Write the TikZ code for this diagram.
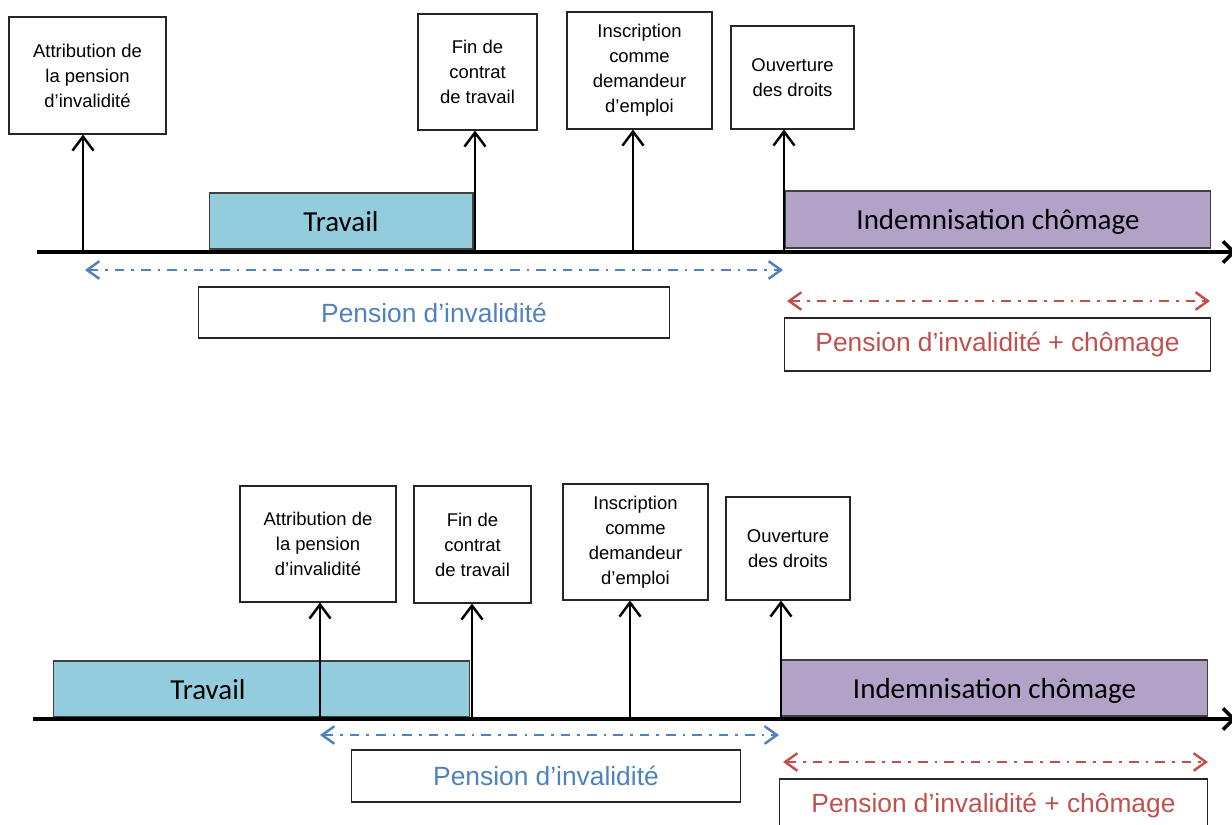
\documentclass[tikz,border=0pt]{standalone}
\usepackage{fontspec}
\setmainfont{Liberation Sans}
\newfontfamily\calibri{Carlito}
\usepackage{tikz}
\usetikzlibrary{arrows.meta}
\definecolor{travailfill}{HTML}{93CDDD}
\definecolor{chomfill}{HTML}{B3A2C7}
\definecolor{penblue}{HTML}{4F81BD}
\definecolor{penred}{HTML}{C0504D}
\tikzstyle{evt}=[draw=black!85, line width=0.6pt, align=center, inner sep=0pt, font=\fontsize{10.5}{14.2}\selectfont]
\tikzstyle{bloc}=[draw=black!75, line width=0.6pt, inner sep=0pt, text height=11.5pt, text depth=0pt, font=\calibri\fontsize{16.5}{19}\selectfont]
\tikzstyle{penbox}=[draw=black!85, line width=0.6pt, inner sep=0pt, font=\fontsize{15}{18}\selectfont]
\tikzstyle{jalon}=[line width=1.4pt, -{Straight Barb[length=8pt,width=12pt]}]
\tikzstyle{timeline}=[line width=2pt, -{Straight Barb[length=6pt,width=12pt]}]
\tikzstyle{periode}=[line width=1.4pt, dash pattern=on 5.5pt off 4pt on 1.5pt off 4pt, {Straight Barb[length=7pt,width=10pt]}-{Straight Barb[length=7pt,width=10pt]}]

\begin{document}
\begin{tikzpicture}[x=0.02cm, y=-0.02cm]
\useasboundingbox (0,0) rectangle (1232,825);

\node[evt, minimum width=3.14cm, minimum height=2.34cm] (attrA) at (87.5,75.5) {Attribution de\\la pension\\d’invalidité};
\node[evt, minimum width=2.38cm, minimum height=2.32cm] (finA) at (477.5,72) {Fin de\\contrat\\de travail};
\node[evt, minimum width=2.9cm, minimum height=2.34cm] (inscA) at (639.5,70.5) {Inscription\\comme\\demandeur\\d’emploi};
\node[evt, minimum width=2.46cm, minimum height=2.06cm] (ouvA) at (792.5,77.5) {Ouverture\\des droits};
\node[bloc, fill=travailfill, minimum width=5.28cm, minimum height=1.12cm] (travA) at (341,221) {Travail};
\node[bloc, fill=chomfill, minimum width=8.52cm, minimum height=1.14cm] (indA) at (998,219.5) {Indemnisation chômage};
\node[penbox, text=penblue, minimum width=9.44cm, minimum height=1.02cm] (penA) at (434,312.5) {Pension d’invalidité};
\node[penbox, text=penred, minimum width=8.54cm, minimum height=1.06cm] (pcA) at (997.5,344.5) {Pension d’invalidité + chômage};

\coordinate (axA0) at (37,252);
\coordinate (axA1) at (1236,252);
\coordinate (tA1) at (83,252);
\coordinate (tA2) at (475,252);
\coordinate (tA3) at (633,252);
\coordinate (tA4) at (784,252);
\coordinate (bA0) at (85,270);
\coordinate (bA1) at (783,270);
\coordinate (rA0) at (787,301);
\coordinate (rA1) at (1210,301);

\draw[jalon] (tA1) -- (tA1 |- attrA.south);
\draw[jalon] (tA2) -- (tA2 |- finA.south);
\draw[jalon] (tA3) -- (tA3 |- inscA.south);
\draw[jalon] (tA4) -- (tA4 |- ouvA.south);
\draw[timeline] (axA0) -- (axA1);
\draw[periode, penblue] (bA0) -- (bA1);
\draw[periode, penred] (rA0) -- (rA1);

\node[evt, minimum width=3.12cm, minimum height=2.32cm] (attrB) at (318,544) {Attribution de\\la pension\\d’invalidité};
\node[evt, minimum width=2.34cm, minimum height=2.34cm] (finB) at (472.5,544.5) {Fin de\\contrat\\de travail};
\node[evt, minimum width=2.9cm, minimum height=2.32cm] (inscB) at (635.5,542) {Inscription\\comme\\demandeur\\d’emploi};
\node[evt, minimum width=2.48cm, minimum height=2.06cm] (ouvB) at (788,548.5) {Ouverture\\des droits};
\node[bloc, fill=travailfill, minimum width=8.34cm, minimum height=1.12cm] (travB) at (261.5,689) {};
\node[font=\calibri\fontsize{16.5}{19}\selectfont, inner sep=0pt, text height=11.5pt, text depth=0pt] (travBt) at (208,689) {Travail};
\node[bloc, fill=chomfill, minimum width=8.54cm, minimum height=1.12cm] (indB) at (994.5,688) {Indemnisation chômage};
\node[penbox, text=penblue, minimum width=7.8cm, minimum height=1.04cm] (penB) at (546,776) {Pension d’invalidité};
\node[penbox, text=penred, minimum width=8.58cm, minimum height=1.06cm] (pcB) at (993.5,805.5) {Pension d’invalidité + chômage};

\coordinate (axB0) at (33,719);
\coordinate (axB1) at (1236,719);
\coordinate (tB1) at (320,719);
\coordinate (tB2) at (472,719);
\coordinate (tB3) at (630,719);
\coordinate (tB4) at (781,719);
\coordinate (bB0) at (320,735);
\coordinate (bB1) at (779,735);
\coordinate (rB0) at (783,762);
\coordinate (rB1) at (1208,762);

\draw[jalon] (tB1) -- (tB1 |- attrB.south);
\draw[jalon] (tB2) -- (tB2 |- finB.south);
\draw[jalon] (tB3) -- (tB3 |- inscB.south);
\draw[jalon] (tB4) -- (tB4 |- ouvB.south);
\draw[timeline] (axB0) -- (axB1);
\draw[periode, penblue] (bB0) -- (bB1);
\draw[periode, penred] (rB0) -- (rB1);
\end{tikzpicture}
\end{document}
